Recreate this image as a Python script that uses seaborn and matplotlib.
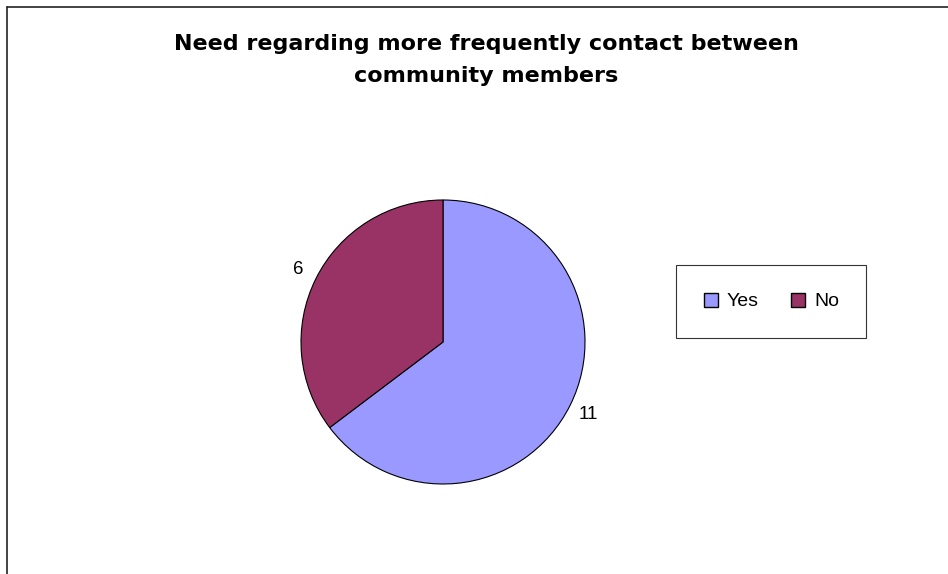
import matplotlib.pyplot as plt
import seaborn as sns
from matplotlib.lines import Line2D

sns.set_style("white")
plt.rcParams['font.family'] = ['Liberation Sans', 'DejaVu Sans']
plt.rcParams['text.color'] = 'black'

# ====================== DATA ======================
answers = ['Yes', 'No']
counts = [11, 6]
colors = ['#9999FF', '#993366']
title = 'Need regarding more frequently contact between\ncommunity members'

# ====================== PLOT ======================
fig = plt.figure(figsize=(9.48, 5.74), dpi=100)
W, H = 948, 574

# pie area: centre (443, 342), radius 142 px
cx, cy, r = 443, 342, 142
ax = fig.add_axes([(cx - r) / W, (H - cy - r) / H, 2 * r / W, 2 * r / H])

wedges, texts = ax.pie(counts, labels=[str(c) for c in counts], colors=colors,
                       startangle=90, counterclock=False, labeldistance=1.14,
                       wedgeprops=dict(edgecolor='black', linewidth=0.8),
                       textprops=dict(fontsize=13.5, color='black'))
for t in texts:
    t.set_horizontalalignment('center')
ax.set_xlim(-1, 1)
ax.set_ylim(-1, 1)
ax.set_aspect('equal')

fig.text(486 / W, 1 - 60 / H, title, ha='center', va='center',
         fontsize=16, fontweight='bold', linespacing=1.75,
         family=['DejaVu Sans'], color='black')

# legend
handles = [Line2D([0], [0], marker='s', linestyle='', markersize=10,
                  markerfacecolor=c, markeredgecolor='black', markeredgewidth=1.0)
           for c in colors]
leg = fig.legend(handles, answers, ncol=2, loc='center',
                 bbox_to_anchor=(771 / W, 1 - 301.5 / H), frameon=True,
                 fancybox=False, fontsize=14, handlelength=0.8,
                 handletextpad=0.43, columnspacing=1.6, borderpad=1.4,
                 borderaxespad=0, labelcolor='black')
leg.get_frame().set_edgecolor('black')
leg.get_frame().set_linewidth(0.8)

# outer chart border (left and top visible)
fig.add_artist(Line2D([7 / W, 7 / W], [0, 1 - 7 / H], color='#222222', lw=1.2))
fig.add_artist(Line2D([7 / W, 1], [1 - 7 / H, 1 - 7 / H], color='#222222', lw=1.2))

plt.savefig('out.png', dpi=100)
